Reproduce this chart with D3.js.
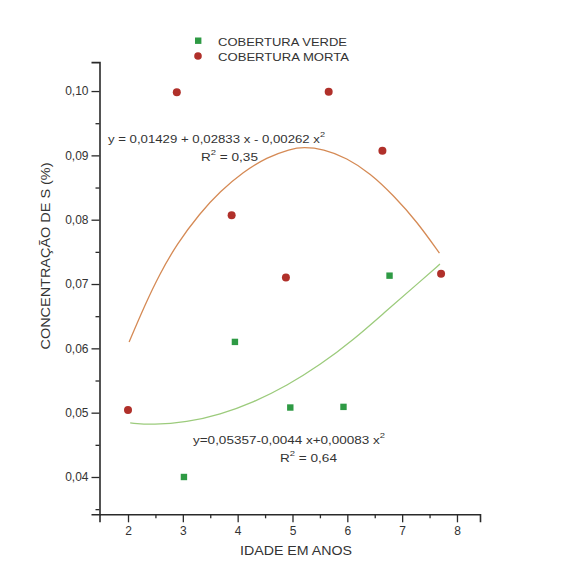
<!DOCTYPE html>
<html><head><meta charset="utf-8">
<script src="https://cdn.jsdelivr.net/npm/d3@7"></script>
<style>body{margin:0;background:#fff}svg text{font-family:"Liberation Sans",Arial,sans-serif;fill:#333}</style>
</head><body><svg id="c" width="574" height="575"></svg>
<script>
// Data
const seriesNames = ["COBERTURA VERDE", "COBERTURA MORTA"];
const verdeX = [3.02, 3.95, 4.96, 5.93, 6.77];
const verdeY = [0.0400, 0.0610, 0.0508, 0.0509, 0.0713];
const mortaX = [2.00, 2.89, 3.89, 4.88, 5.66, 6.64, 7.71];
const mortaY = [0.0504, 0.0998, 0.0807, 0.0710, 0.0999, 0.0907, 0.0716];
// fitted curves
const fitMortaX = [2.02, 2.31, 2.58, 2.89, 3.31, 3.68, 4.10, 4.53, 4.96, 5.20, 5.56, 5.99, 6.42, 6.84, 7.27, 7.68];
const fitMortaY = [0.0610, 0.0668, 0.0716, 0.0762, 0.0810, 0.0844, 0.0874, 0.0897, 0.0910, 0.0913, 0.0910, 0.0896, 0.0872, 0.0838, 0.0797, 0.0748];
const fitVerdeX = [2.04, 2.46, 3.07, 3.68, 4.29, 4.90, 5.50, 6.11, 6.72, 7.33, 7.69];
const fitVerdeY = [0.0484, 0.0481, 0.0485, 0.0497, 0.0516, 0.0542, 0.0574, 0.0613, 0.0659, 0.0704, 0.0731];
const xTicks = [2, 3, 4, 5, 6, 7, 8];
const xMinor = [2.5, 3.5, 4.5, 5.5, 6.5, 7.5];
const yTicks = [0.04, 0.05, 0.06, 0.07, 0.08, 0.09, 0.10];
const yMinor = [0.035, 0.045, 0.055, 0.065, 0.075, 0.085, 0.095];
const yLabels = ["0,04", "0,05", "0,06", "0,07", "0,08", "0,09", "0,10"];
const eqMorta = ["y = 0,01429 + 0,02833 x - 0,00262 x", "R", " = 0,35"];
const eqVerde = ["y=0,05357-0,0044 x+0,00083 x", "R", " = 0,64"];
const xTitle = "IDADE EM ANOS";
const yTitle = "CONCENTRAÇÃO DE S (%)";

const svg = d3.select("#c");
const x = d3.scaleLinear().domain([1.48, 8.42]).range([99.5, 480]);
const y = d3.scaleLinear().domain([0.0342, 0.1045]).range([514.3, 62.1]);
const axisColor = "#2a2a2a";

// Y axis
const yAxisG = svg.append("g").attr("transform", `translate(${x(1.48)},0)`);
yAxisG.call(d3.axisLeft(y).tickValues(yTicks).tickSize(8).tickPadding(3).tickFormat((d,i)=>yLabels[i]));
const yMinG = svg.append("g").attr("transform", `translate(${x(1.48)},0)`);
yMinG.call(d3.axisLeft(y).tickValues(yMinor).tickSize(4).tickFormat(""));
yMinG.select(".domain").remove();
// X axis
const xAxisG = svg.append("g").attr("transform", `translate(0,${y(0.0342)})`);
xAxisG.call(d3.axisBottom(x).tickValues(xTicks).tickSize(8).tickPadding(4).tickFormat(d3.format("d")));
const xMinG = svg.append("g").attr("transform", `translate(0,${y(0.0342)})`);
xMinG.call(d3.axisBottom(x).tickValues(xMinor).tickSize(4).tickFormat(""));
xMinG.select(".domain").remove();
svg.selectAll(".domain").attr("stroke", axisColor).attr("stroke-width", 1.6);
svg.selectAll(".tick line").attr("stroke", axisColor).attr("stroke-width", 1.3);
svg.selectAll(".tick text").attr("font-size", 12).attr("fill", "#333").style("font-family", '"Liberation Sans",Arial,sans-serif');

// Axis titles
svg.append("text").attr("x", 296).attr("y", 555).attr("text-anchor", "middle").attr("font-size", 12)
  .attr("textLength", 112).attr("lengthAdjust", "spacingAndGlyphs").text(xTitle);
svg.append("text").attr("transform", "translate(50,256) rotate(-90)").attr("text-anchor", "middle").attr("font-size", 12)
  .attr("textLength", 187).attr("lengthAdjust", "spacingAndGlyphs").text(yTitle);

// Curves
const line = d3.line().x(d=>x(d[0])).y(d=>y(d[1])).curve(d3.curveBasis);
svg.append("path").attr("d", line(d3.zip(fitMortaX, fitMortaY))).attr("fill", "none").attr("stroke", "#d58a55").attr("stroke-width", 1.3);
svg.append("path").attr("d", line(d3.zip(fitVerdeX, fitVerdeY))).attr("fill", "none").attr("stroke", "#9ccb7c").attr("stroke-width", 1.3);

// Points
const red = "#b0302a", green = "#2e9a44";
svg.append("g").selectAll("rect").data(d3.zip(verdeX, verdeY)).join("rect")
  .attr("x", d=>x(d[0])-3.2).attr("y", d=>y(d[1])-3.2).attr("width", 6.4).attr("height", 6.4).attr("fill", green);
svg.append("g").selectAll("circle").data(d3.zip(mortaX, mortaY)).join("circle")
  .attr("cx", d=>x(d[0])).attr("cy", d=>y(d[1])).attr("r", 4).attr("fill", red);

// Legend
svg.append("rect").attr("x", 195).attr("y", 37.5).attr("width", 6.4).attr("height", 6.4).attr("fill", green);
svg.append("circle").attr("cx", 198).attr("cy", 56).attr("r", 3.8).attr("fill", red);
svg.append("text").attr("x", 218).attr("y", 45.5).attr("font-size", 11).attr("textLength", 129).attr("lengthAdjust", "spacingAndGlyphs").text(seriesNames[0]);
svg.append("text").attr("x", 218).attr("y", 60.5).attr("font-size", 11).attr("textLength", 131).attr("lengthAdjust", "spacingAndGlyphs").text(seriesNames[1]);

// Equations
function eq(xs, ys, txt, len, rx, ry, rlen){
  const t = svg.append("text").attr("x", xs).attr("y", ys).attr("font-size", 11.5);
  t.append("tspan").text(txt[0]);
  t.append("tspan").attr("dy", -6).attr("font-size", 8).text("2");
  t.attr("textLength", len).attr("lengthAdjust", "spacingAndGlyphs");
  const r = svg.append("text").attr("x", rx).attr("y", ry).attr("font-size", 11.5);
  r.append("tspan").text(txt[1]);
  r.append("tspan").attr("dy", -6).attr("font-size", 8).text("2");
  r.append("tspan").attr("dy", 6).text(txt[2]);
  r.attr("textLength", rlen).attr("lengthAdjust", "spacingAndGlyphs");
}
eq(108, 142.5, eqMorta, 217, 201, 160.5, 57);
eq(193, 443.5, eqVerde, 192, 280, 462, 57);
</script></body></html>
